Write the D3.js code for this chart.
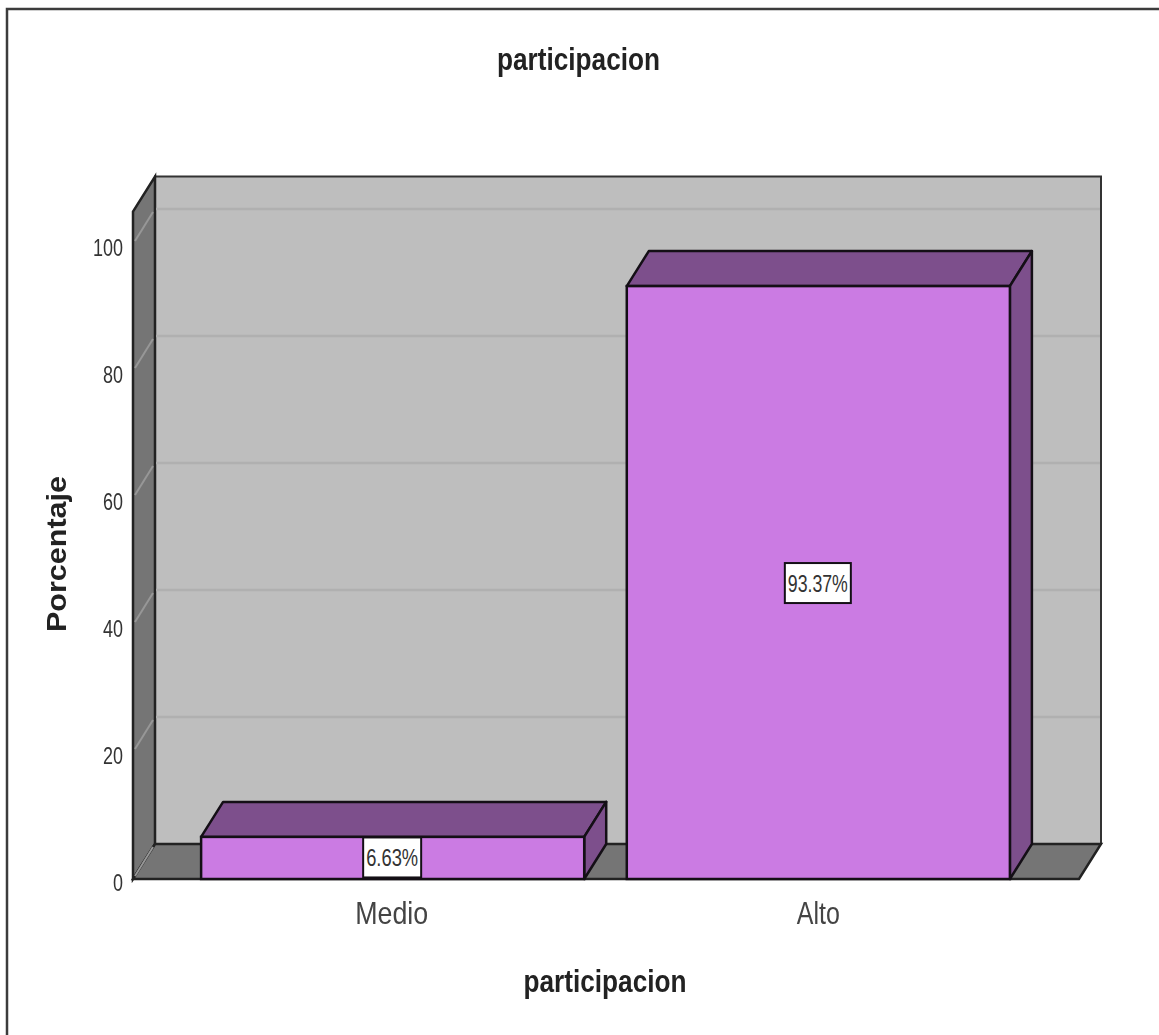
<!DOCTYPE html>
<html><head><meta charset="utf-8">
<script src="https://cdn.jsdelivr.net/npm/d3@7"></script>
<style>html,body{margin:0;padding:0;background:#fff;overflow:hidden}svg{display:block;filter:blur(.7px)}
text{font-family:"Liberation Sans",Arial,sans-serif}</style>
</head><body><div id="c"></div>
<script>
const categories = ["Medio", "Alto"];
const percentages = [6.63, 93.37];
const valueLabels = ["6.63%", "93.37%"];
const yTicks = [0, 20, 40, 60, 80, 100];
const titleText = "participacion";
const xAxisTitle = "participacion";
const yAxisTitle = "Porcentaje";

const W = 1159, H = 1035;
const dx = 22, dy = -35;
const svg = d3.select("#c").append("svg").attr("width", W).attr("height", H);

const y = d3.scaleLinear().domain([0, 100]).range([879, 244]);
const x = d3.scaleBand().domain(categories).range([133, 1078]).paddingInner(0.1).paddingOuter(0.16);
const yMaxDomain = 105.1;
const left = x.range()[0], right = x.range()[1] + 1, base = y(0), top_ = y(yMaxDomain);
const poly = pts => pts.map(p => p.join(",")).join(" ");
const edge = "#140f16";

// outer frame
svg.append("path").attr("d", `M7,${H} V9 H${W}`).attr("fill", "none").attr("stroke", "#3c3c3c").attr("stroke-width", 2.5);

// back wall, left wall, floor
svg.append("polygon").attr("points", poly([[left+dx,base+dy],[right+dx,base+dy],[right+dx,top_+dy],[left+dx,top_+dy]])).attr("fill", "#bebebe").attr("stroke", "#333").attr("stroke-width", 2);
svg.append("polygon").attr("points", poly([[left,base],[left+dx,base+dy],[left+dx,top_+dy],[left,top_]])).attr("fill", "#757575").attr("stroke", "#222").attr("stroke-width", 2.5);
svg.append("polygon").attr("points", poly([[left,base],[right,base],[right+dx,base+dy],[left+dx,base+dy]])).attr("fill", "#757575").attr("stroke", "#222").attr("stroke-width", 2.5);

// gridlines
const grid = svg.append("g");
yTicks.filter(t => t > 0).forEach(t => {
  grid.append("line").attr("x1", left+dx+1).attr("x2", right+dx-1).attr("y1", y(t)+dy).attr("y2", y(t)+dy).attr("stroke", "#b0b0b0").attr("stroke-width", 2.5);
});
yTicks.forEach(t => {
  grid.append("line").attr("x1", left+2).attr("x2", left+dx-2).attr("y1", y(t)-3).attr("y2", y(t)+dy+3).attr("stroke", "#979797").attr("stroke-width", 2);
});

// bars
const bars = svg.selectAll("g.bar").data(categories.map((c,i)=>({c, v:percentages[i], l:valueLabels[i]}))).join("g").attr("class","bar");
bars.append("polygon").attr("points", d => { const a=x(d.c), b=a+x.bandwidth(), t=y(d.v); return poly([[a,t],[b,t],[b+dx,t+dy],[a+dx,t+dy]]); })
  .attr("fill", "#7d4f8c").attr("stroke", edge).attr("stroke-width", 2.5).attr("stroke-linejoin","round");
bars.append("polygon").attr("points", d => { const b=x(d.c)+x.bandwidth(), t=y(d.v); return poly([[b,t],[b+dx,t+dy],[b+dx,base+dy],[b,base]]); })
  .attr("fill", "#7d4f8c").attr("stroke", edge).attr("stroke-width", 2.5).attr("stroke-linejoin","round");
bars.append("rect").attr("x", d => x(d.c)).attr("y", d => y(d.v)).attr("width", x.bandwidth()).attr("height", d => base - y(d.v))
  .attr("fill", "#cb7be3").attr("stroke", edge).attr("stroke-width", 2.5);

// value labels
const lblW = [58, 66], lblH = 40;
bars.each(function(d,i){
  const g = d3.select(this), cx = x(d.c)+x.bandwidth()/2-0.5, cy = Math.min((y(d.v)+base)/2, base-lblH/2) + (i===0?-0.5:0.5);
  g.append("rect").attr("x", cx-lblW[i]/2).attr("y", cy-lblH/2).attr("width", lblW[i]).attr("height", lblH).attr("fill","#fff").attr("stroke", edge).attr("stroke-width",2);
  g.append("text").attr("x", cx).attr("y", cy+9).attr("text-anchor","middle").attr("font-size",24).attr("fill","#333")
    .attr("textLength", lblW[i]-6).attr("lengthAdjust","spacingAndGlyphs").text(d.l);
});

// axes
const gy = svg.append("g").attr("transform", `translate(${left-10},4)`).call(d3.axisLeft(y).tickValues(yTicks).tickSize(0).tickPadding(0));
gy.select(".domain").remove();
gy.selectAll("text").attr("font-size",23).attr("font-family",'"Liberation Sans"').attr("fill","#333").attr("dy","0.32em")
  .attr("textLength", t => String(t).length*10).attr("lengthAdjust","spacingAndGlyphs");

const gx = svg.append("g").attr("transform", `translate(0,${base+45})`).call(d3.axisBottom(x).tickSize(0).tickPadding(0));
gx.select(".domain").remove();
const catW = {Medio:73, Alto:43};
gx.selectAll("text").attr("font-size",32).attr("font-family",'"Liberation Sans"').attr("fill","#444").attr("dy",0)
  .attr("transform", c => c === "Medio" ? "translate(-1,0)" : null)
  .attr("textLength", c => catW[c]).attr("lengthAdjust","spacingAndGlyphs");

// titles
svg.append("text").attr("x",578.5).attr("y",70).attr("text-anchor","middle").attr("font-size",31).attr("font-weight","bold").attr("fill","#222")
  .attr("textLength",163).attr("lengthAdjust","spacingAndGlyphs").text(titleText);
svg.append("text").attr("x",605).attr("y",992).attr("text-anchor","middle").attr("font-size",31).attr("font-weight","bold").attr("fill","#222")
  .attr("textLength",163).attr("lengthAdjust","spacingAndGlyphs").text(xAxisTitle);
svg.append("text").attr("transform","translate(66,554) rotate(-90)").attr("text-anchor","middle").attr("font-size",27).attr("font-weight","bold").attr("fill","#222")
  .attr("textLength",156).attr("lengthAdjust","spacingAndGlyphs").text(yAxisTitle);
</script></body></html>
